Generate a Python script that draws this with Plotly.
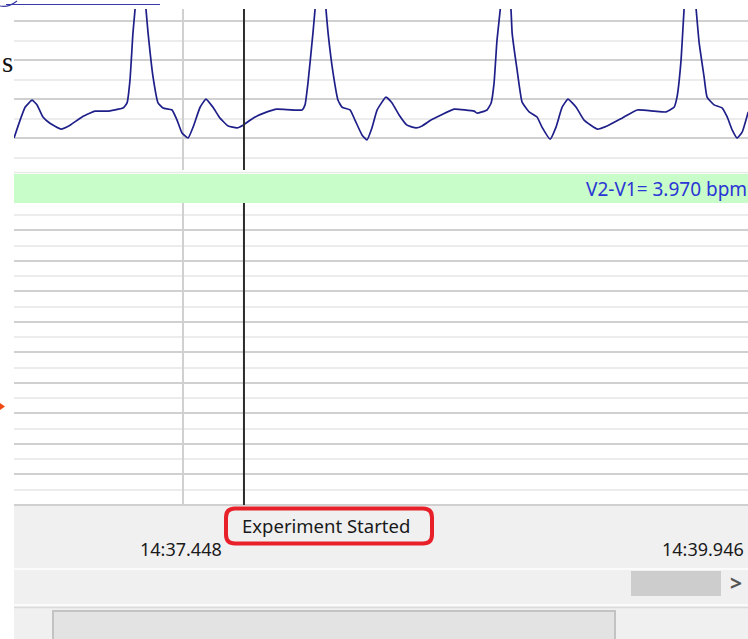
import plotly.graph_objects as go

# ---------------- data ----------------
time_s = [
    36.700, 36.727, 36.749, 36.780, 36.802, 36.828, 36.859, 36.908, 36.948, 37.001,
    37.058, 37.111, 37.182, 37.200, 37.213, 37.226, 37.235, 37.257, 37.284, 37.293,
    37.315, 37.337, 37.359, 37.399, 37.421, 37.443, 37.470, 37.492, 37.523, 37.549,
    37.580, 37.611, 37.647, 37.686, 37.713, 37.757, 37.819, 37.863, 37.974, 37.987,
    38.000, 38.022, 38.031, 38.056, 38.080, 38.089, 38.111, 38.133, 38.151, 38.186,
    38.208, 38.239, 38.261, 38.283, 38.306, 38.345, 38.372, 38.403, 38.438, 38.478,
    38.505, 38.544, 38.589, 38.646, 38.735, 38.748, 38.792, 38.810, 38.823, 38.836,
    38.850, 38.874, 38.898, 38.903, 38.925, 38.947, 38.978, 39.013, 39.035, 39.071,
    39.097, 39.124, 39.150, 39.186, 39.221, 39.279, 39.323, 39.389, 39.456, 39.531,
    39.584, 39.619, 39.632, 39.650, 39.663, 39.690, 39.717, 39.730, 39.752, 39.765,
    39.796, 39.832, 39.854, 39.876, 39.898, 39.920, 39.947,
]
ecg_mv = [
    0.00, 0.46, 0.79, 0.97, 0.85, 0.54, 0.38, 0.23, 0.33, 0.54,
    0.69, 0.69, 0.77, 0.90, 1.49, 2.69, 3.28, 5.08, 3.28, 2.69,
    1.56, 0.90, 0.77, 0.72, 0.46, 0.13, 0.00, 0.28, 0.79, 1.00,
    0.79, 0.51, 0.31, 0.26, 0.33, 0.51, 0.67, 0.74, 0.72, 0.85,
    1.41, 2.69, 3.28, 5.08, 3.28, 2.69, 1.67, 0.97, 0.79, 0.72,
    0.46, 0.08, -0.05, 0.26, 0.72, 1.05, 0.90, 0.59, 0.33, 0.26,
    0.31, 0.46, 0.59, 0.74, 0.69, 0.64, 0.72, 0.90, 1.41, 2.51,
    3.28, 5.08, 3.28, 2.69, 1.74, 0.92, 0.67, 0.54, 0.28, -0.03,
    0.28, 0.79, 1.00, 0.79, 0.46, 0.23, 0.31, 0.51, 0.72, 0.69,
    0.67, 0.79, 1.05, 2.00, 3.28, 5.08, 3.28, 2.44, 1.56, 1.05,
    0.85, 0.77, 0.54, 0.21, 0.00, 0.15, 0.67,
]

start_time = 36.700
end_time = 39.946
tick_time = 37.448
tick_label = "14:37.448"
end_label = "14:39.946"
comment_time = 37.717
comment_text = "Experiment Started"
rate_text = "V2-V1= 3.970 bpm"

# ---------------- layout helpers (pixel -> paper) ----------------
W, H = 748, 639


def px(x):
    return x / W


def py(y):
    return 1 - y / H


def rrect_path(x0, y0, x1, y1, r):
    pts = [
        f"M{px(x0 + r)},{py(y0)}",
        f"L{px(x1 - r)},{py(y0)}",
        f"Q{px(x1)},{py(y0)} {px(x1)},{py(y0 + r)}",
        f"L{px(x1)},{py(y1 - r)}",
        f"Q{px(x1)},{py(y1)} {px(x1 - r)},{py(y1)}",
        f"L{px(x0 + r)},{py(y1)}",
        f"Q{px(x0)},{py(y1)} {px(x0)},{py(y1 - r)}",
        f"L{px(x0)},{py(y0 + r)}",
        f"Q{px(x0)},{py(y0)} {px(x0 + r)},{py(y0)}",
        "Z",
    ]
    return " ".join(pts)


FONT = "Noto Sans, Open Sans, sans-serif"
MAJOR = "#d0d0d0"
MINOR = "#ececec"

fig = go.Figure()
fig.add_trace(go.Scatter(x=time_s, y=ecg_mv, mode="lines",
                         line=dict(color="#1f1f8a", width=1.7, shape="spline", smoothing=0.4),
                         xaxis="x", yaxis="y", showlegend=False, hoverinfo="skip"))
fig.add_trace(go.Scatter(x=[], y=[], mode="lines", xaxis="x2", yaxis="y2",
                         showlegend=False))

xcommon = dict(domain=[px(14), 1], range=[start_time, end_time],
               tickvals=[tick_time], showticklabels=False, ticks="",
               showgrid=True, gridcolor=MAJOR, gridwidth=2,
               zeroline=False, showline=False, fixedrange=True)
fig.update_layout(
    width=W, height=H, margin=dict(l=0, r=0, t=0, b=0),
    paper_bgcolor="white", plot_bgcolor="white",
    xaxis=dict(anchor="y", **xcommon),
    xaxis2=dict(anchor="y2", **xcommon),
    yaxis=dict(domain=[py(170), py(9)], range=[-0.82, 3.31], anchor="x",
               tick0=0, dtick=1, showgrid=True, gridcolor=MAJOR, gridwidth=2,
               minor=dict(tick0=0, dtick=0.5, showgrid=True, gridcolor=MINOR, gridwidth=2),
               showticklabels=False, ticks="", zeroline=False, fixedrange=True),
    yaxis2=dict(domain=[py(505), py(203)], range=[0, 9.9], anchor="x2",
                tick0=0, dtick=1, showgrid=True, gridcolor=MAJOR, gridwidth=2,
                minor=dict(tick0=0, dtick=0.5, showgrid=True, gridcolor=MINOR, gridwidth=2),
                showticklabels=False, ticks="", zeroline=True,
                zerolinecolor=MAJOR, zerolinewidth=2, fixedrange=True),
)

shapes = [
    # comment (event) line in both channels
    dict(type="line", xref="x", yref="y domain", x0=comment_time, x1=comment_time,
         y0=0, y1=1, line=dict(color="#2c2c2c", width=2)),
    dict(type="line", xref="x2", yref="y2 domain", x0=comment_time, x1=comment_time,
         y0=0, y1=1, line=dict(color="#2c2c2c", width=2)),
    # green rate band
    dict(type="rect", xref="paper", yref="paper", x0=px(14), x1=1, y0=py(203), y1=py(174),
         fillcolor="#c8fcc8", line=dict(width=0)),
    dict(type="line", xref="paper", yref="paper", x0=px(14), x1=1, y0=py(172.5), y1=py(172.5),
         line=dict(color="#e6ebe6", width=1.5)),
    # bottom grey chrome
    dict(type="rect", xref="paper", yref="paper", x0=px(14), x1=1, y0=0, y1=py(506),
         fillcolor="#f0f0f0", line=dict(width=0)),
    dict(type="line", xref="paper", yref="paper", x0=px(14), x1=1, y0=py(569), y1=py(569),
         line=dict(color="#fbfbfb", width=2)),
    dict(type="line", xref="paper", yref="paper", x0=px(14), x1=1, y0=py(605), y1=py(605),
         line=dict(color="#fbfbfb", width=2)),
    dict(type="line", xref="paper", yref="paper", x0=px(14), x1=1, y0=py(607.5), y1=py(607.5),
         line=dict(color="#dadada", width=1.5)),
    dict(type="rect", xref="paper", yref="paper", x0=px(631), x1=px(721), y0=py(596), y1=py(571),
         fillcolor="#cdcdcd", line=dict(width=0)),
    dict(type="rect", xref="paper", yref="paper", x0=px(53), x1=px(615), y0=py(650), y1=py(611),
         fillcolor="#e3e3e3", line=dict(color="#c3c3c3", width=2)),
    # red highlight box around comment
    dict(type="path", xref="paper", yref="paper", path=rrect_path(226, 508.5, 432, 543.5, 9),
         line=dict(color="#e8202a", width=4), fillcolor="rgba(0,0,0,0)"),
    # orange arrow tip at left page edge
    dict(type="path", xref="paper", yref="paper",
         path=f"M{px(0)},{py(403)} L{px(5)},{py(406.5)} L{px(0)},{py(410)} Z",
         fillcolor="#f04a14", line=dict(width=0)),
    # blue hyperlink underline from the document above
    dict(type="line", xref="paper", yref="paper", x0=px(6), x1=px(160), y0=py(4.5), y1=py(4.5),
         line=dict(color="#3a3aa8", width=1.2)),
    dict(type="path", xref="paper", yref="paper",
         path=f"M{px(0)},{py(6)} Q{px(8)},{py(8)} {px(17)},{py(1)}",
         line=dict(color="#3a3aa8", width=1.2)),
]
fig.update_layout(shapes=shapes)

annotations = [
    dict(text=rate_text, xref="paper", yref="paper", x=1, y=py(189), xanchor="right",
         yanchor="middle", showarrow=False, xshift=1,
         font=dict(family=FONT, size=19, color="#2b36d6")),
    dict(text=comment_text, xref="x2", yref="paper", x=comment_time, y=py(525),
         xanchor="left", yanchor="middle", showarrow=False, xshift=-4,
         font=dict(family=FONT, size=18.5, color="#1a1a1a")),
    dict(text=tick_label, xref="x2", yref="paper", x=tick_time, y=py(549),
         xanchor="center", yanchor="middle", showarrow=False, xshift=-2,
         font=dict(family=FONT, size=18, color="#1a1a1a")),
    dict(text=end_label, xref="x2", yref="paper", x=end_time, y=py(549),
         xanchor="right", yanchor="middle", showarrow=False, xshift=-2,
         font=dict(family=FONT, size=18, color="#1a1a1a")),
    dict(text="<b>&gt;</b>", xref="paper", yref="paper", x=px(736), y=py(583),
         xanchor="center", yanchor="middle", showarrow=False,
         font=dict(family=FONT, size=21, color="#555555")),
    dict(text="s", xref="paper", yref="paper", x=0, y=py(62), xanchor="left",
         yanchor="middle", showarrow=False, xshift=0,
         font=dict(family="Liberation Serif, serif", size=29, color="#111111")),
]
fig.update_layout(annotations=annotations)

fig.write_html("out.html", config={"displayModeBar": False, "staticPlot": True},
               post_script="document.body.style.margin='0';")
